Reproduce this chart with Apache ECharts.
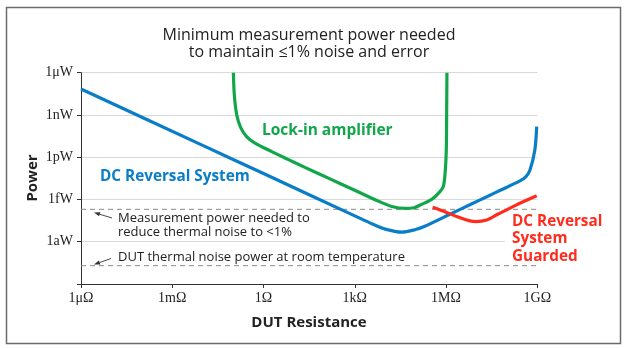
<!DOCTYPE html>
<html>
<head>
<meta charset="utf-8">
<script src="https://cdn.jsdelivr.net/npm/echarts@6/dist/echarts.min.js"></script>
<style>html,body{margin:0;padding:0;background:#fff;}#c{width:627px;height:349px;}</style>
</head>
<body>
<div id="c"></div>
<script>
// Tick values and labels
const xTickValues = [1e-6, 1e-3, 1, 1e3, 1e6, 1e9];
const xTickLabels = ['1μΩ', '1mΩ', '1Ω', '1kΩ', '1MΩ', '1GΩ'];
const yTickValues = [1e-18, 1e-15, 1e-12, 1e-9, 1e-6];
const yTickLabels = ['1aW', '1fW', '1pW', '1nW', '1μW'];

// DC Reversal System (blue)
const dcReversalR = [1e-6, 1e-2, 1, 1e3, 3.98e3, 1e4, 3.47e4, 1e5, 2e5, 1.35e6, 6.3e6, 2.19e7, 6.3e7, 2.69e8, 4.17e8, 5.75e8, 8.3e8, 9.55e8];
const dcReversalP = [6.9e-8, 6.9e-12, 6.9e-14, 6.9e-17, 1.74e-17, 7.9e-18, 4.8e-18, 7.4e-18, 1.26e-17, 8.9e-17, 4.4e-16, 1.58e-15, 4.7e-15, 2.1e-14, 4e-14, 1.26e-13, 3.3e-12, 1.48e-10];

// Lock-in amplifier (green)
const lockInR = [0.102, 0.110, 0.132, 0.178, 0.282, 0.525, 1.86, 6.6, 22.9, 81, 288, 1000, 3630, 7760, 16200, 44700, 89000, 158000, 347000, 631000, 813000, 933000, 1.02e6, 1.05e6, 1.07e6];
const lockInP = [1e-6, 2.5e-8, 1e-9, 1.26e-10, 2.8e-11, 1e-11, 2.5e-12, 6.8e-13, 1.9e-13, 5.4e-14, 1.55e-14, 4.5e-15, 1.23e-15, 6.0e-16, 3.2e-16, 2.3e-16, 2.6e-16, 4.5e-16, 1.05e-15, 3.6e-15, 8.1e-15, 7.8e-14, 3.3e-12, 2.2e-9, 1e-6];

// DC Reversal System Guarded (red)
const guardedR = [3.63e5, 1e6, 2.51e6, 5.62e6, 1e7, 2e7, 5e7, 2e8, 9.55e8];
const guardedP = [2.82e-16, 1.26e-16, 5.6e-17, 3.16e-17, 2.7e-17, 3.3e-17, 8.9e-17, 4e-16, 1.82e-15];

// Reference levels (dashed)
const levelR = [1e-6, 1e9];
const measurementPowerLevel = 2e-16;
const thermalNoiseLevel = 2e-20;

// Axis extents (decades)
const xRange = [1e-6, 1e9];
const yRange = [1e-21, 1e-6];

// Both axes are logarithmic: values are placed on value axes in log10 units.
const lg = Math.log10;
const pairs = (xs, ys) => xs.map((x, i) => [lg(x), lg(ys[i])]);
const labelFor = (vals, labs) => v => {
  for (let i = 0; i < vals.length; i++) {
    if (Math.abs(v - lg(vals[i])) < 0.01) return labs[i];
  }
  return '';
};

const BLUE = '#0a7dc9', GREEN = '#12a64a', RED = '#ff2b1c';
const SANS = '"Open Sans", "Liberation Sans", sans-serif';
const SERIF = '"Liberation Serif", "DejaVu Serif", serif';

function arrow(x1, y1, x2, y2) {
  const a = Math.atan2(y2 - y1, x2 - x1), L = 6, W = 2.2;
  const bx = x2 - L * Math.cos(a), by = y2 - L * Math.sin(a);
  const px = -Math.sin(a) * W, py = Math.cos(a) * W;
  return [
    { type: 'line', shape: { x1: x1, y1: y1, x2: bx, y2: by }, style: { stroke: '#333', lineWidth: 0.9 } },
    { type: 'polygon', shape: { points: [[x2, y2], [bx + px, by + py], [bx - px, by - py]] }, style: { fill: '#333' } }
  ];
}

const chart = echarts.init(document.getElementById('c'), null, { renderer: 'canvas' });
chart.setOption({
  animation: false,
  backgroundColor: '#fff',
  grid: { left: 81, top: 72.7, width: 456.3, height: 211.3, containLabel: false },
  xAxis: {
    type: 'value', min: lg(xRange[0]), max: lg(xRange[1]), interval: 3,
    axisLine: { show: true, onZero: false, lineStyle: { color: '#333', width: 1 } },
    axisTick: { show: true, length: 4, lineStyle: { color: '#333' } },
    splitLine: { show: false },
    axisLabel: { margin: 7, fontFamily: SERIF, fontSize: 14, color: '#222', formatter: labelFor(xTickValues, xTickLabels) }
  },
  yAxis: {
    type: 'value', min: lg(yRange[0]), max: lg(yRange[1]), interval: 3,
    axisLine: { show: true, onZero: false, lineStyle: { color: '#333', width: 1 } },
    axisTick: { show: true, length: 4, lineStyle: { color: '#333' } },
    splitLine: { show: true, lineStyle: { color: '#d9d9d9', width: 1 } },
    axisLabel: { margin: 8, fontFamily: SERIF, fontSize: 14, color: '#222', formatter: labelFor(yTickValues, yTickLabels) }
  },
  series: [
    { type: 'line', data: pairs(levelR, [measurementPowerLevel, measurementPowerLevel]), symbol: 'none', silent: true, z: 1,
      lineStyle: { color: '#8a8a8a', width: 1, type: [5, 4] } },
    { type: 'line', data: pairs(levelR, [thermalNoiseLevel, thermalNoiseLevel]), symbol: 'none', silent: true, z: 1,
      lineStyle: { color: '#8a8a8a', width: 1, type: [5, 4] } },
    { name: 'DC Reversal System', type: 'line', data: pairs(dcReversalR, dcReversalP), symbol: 'none', smooth: 0.3, z: 3,
      lineStyle: { color: BLUE, width: 3.2 } },
    { name: 'Lock-in amplifier', type: 'line', data: pairs(lockInR, lockInP), symbol: 'none', smooth: 0.3, z: 3,
      lineStyle: { color: GREEN, width: 3.2 } },
    { name: 'DC Reversal System Guarded', type: 'line', data: pairs(guardedR, guardedP), symbol: 'none', smooth: 0.3, z: 3,
      lineStyle: { color: RED, width: 3.2 } }
  ],
  graphic: [
    { type: 'rect', shape: { x: 6.5, y: 7.5, width: 614, height: 336 }, style: { fill: 'none', stroke: '#6b6b6b', lineWidth: 1.5 }, z: 0 },
    { type: 'text', x: 309, y: 35, style: { text: 'Minimum measurement power needed', font: '16px ' + SANS, fill: '#222', align: 'center', verticalAlign: 'middle' } },
    { type: 'text', x: 309, y: 52, style: { text: 'to maintain ≤1% noise and error', font: '16px ' + SANS, fill: '#222', align: 'center', verticalAlign: 'middle' } },
    { type: 'text', x: 33, y: 178, rotation: Math.PI / 2, style: { text: 'Power', font: 'bold 15px ' + SANS, fill: '#222', align: 'center', verticalAlign: 'middle' } },
    { type: 'text', x: 309, y: 323, style: { text: 'DUT Resistance', font: 'bold 15px ' + SANS, fill: '#222', align: 'center', verticalAlign: 'middle' } },
    { type: 'text', x: 262, y: 131, style: { text: 'Lock-in amplifier', font: 'bold 15.5px ' + SANS, fill: GREEN, align: 'left', verticalAlign: 'middle' } },
    { type: 'text', x: 100, y: 177, style: { text: 'DC Reversal System', font: 'bold 15.3px ' + SANS, fill: BLUE, align: 'left', verticalAlign: 'middle' } },
    { type: 'text', x: 505, y: 212.5, z: 10, style: { text: 'DC Reversal\nSystem\nGuarded', font: 'bold 15.3px ' + SANS, lineHeight: 17.5, fill: RED, align: 'left', verticalAlign: 'top', backgroundColor: '#fff', padding: [0, 4, 0, 7] } },
    { type: 'text', x: 118, y: 218, style: { text: 'Measurement power needed to', font: '13px ' + SANS, fill: '#222', align: 'left', verticalAlign: 'middle' } },
    { type: 'text', x: 118, y: 232.5, style: { text: 'reduce thermal noise to <1%', font: '13px ' + SANS, fill: '#222', align: 'left', verticalAlign: 'middle' } },
    { type: 'text', x: 118, y: 257, style: { text: 'DUT thermal noise power at room temperature', font: '13px ' + SANS, fill: '#222', align: 'left', verticalAlign: 'middle' } }
  ].concat(arrow(112, 218, 94, 212.5)).concat(arrow(111, 258.5, 94, 264.5))
});
</script>
</body>
</html>
